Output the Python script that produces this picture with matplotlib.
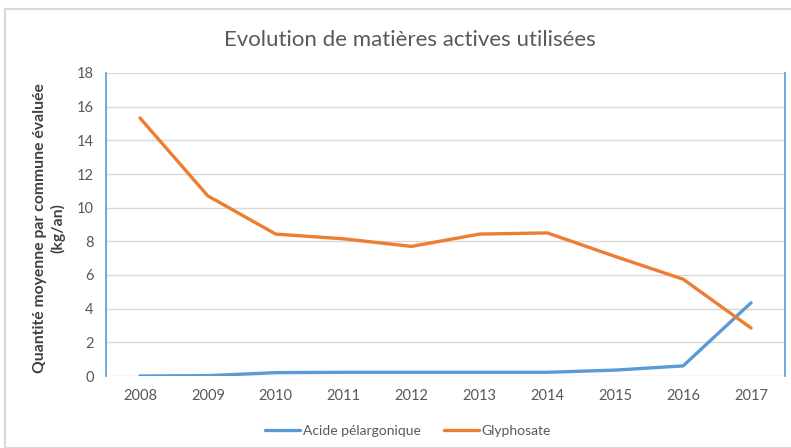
import matplotlib
matplotlib.use("Agg")
import matplotlib.pyplot as plt
from matplotlib.patches import Rectangle

years = [2008, 2009, 2010, 2011, 2012, 2013, 2014, 2015, 2016, 2017]
acide = [0.0, 0.02, 0.2, 0.22, 0.22, 0.22, 0.22, 0.35, 0.6, 4.35]
glypho = [15.33, 10.7, 8.43, 8.15, 7.7, 8.43, 8.5, 7.1, 5.75, 2.85]
yticks = [0, 2, 4, 6, 8, 10, 12, 14, 16, 18]
ytick_labels = ["0", "2", "4", "6", "8", "10", "12", "14", "16", "18"]

plt.rcParams['font.family'] = ['Lato', 'DejaVu Sans']

fig = plt.figure(figsize=(7.91, 4.48), dpi=100)
W, H = 791, 448
ax = fig.add_axes([106 / W, (H - 376) / H, (785 - 106) / W, (376 - 73) / H])

blue = '#5B9BD5'
orange = '#ED7D31'
ax.plot(years, acide, color=blue, lw=2.4, label='Acide pélargonique', solid_capstyle='round')
ax.plot(years, glypho, color=orange, lw=2.4, label='Glyphosate', solid_capstyle='round')

ax.set_xlim(2007.5, 2017.5)
ax.set_ylim(0, 18)
ax.set_yticks(yticks)
ax.set_yticklabels(ytick_labels)
ax.set_xticks(years)
ax.set_xticklabels([str(y) for y in years])
ax.yaxis.grid(True, color='#D9D9D9', lw=1)
ax.set_axisbelow(True)
for s in ['top', 'bottom']:
    ax.spines[s].set_visible(False)
for s in ['left', 'right']:
    ax.spines[s].set_color(blue)
    ax.spines[s].set_linewidth(1.2)
ax.tick_params(axis='both', length=0, labelsize=10.5, colors='#595959')
ax.tick_params(axis='y', pad=9)
ax.tick_params(axis='x', pad=9)

fig.text(49 / W, 1 - 228 / H, 'Quantité moyenne par commune évaluée\n(kg/an)',
         rotation=90, ha='center', va='center', fontsize=11.3, fontweight='bold',
         color='#404040', linespacing=1.25)

fig.text(410 / W, 1 - 40 / H, 'Evolution de matières actives utilisées',
         ha='center', va='center', fontsize=16, color='#595959')

leg = fig.legend(loc='center', bbox_to_anchor=(408 / W, 1 - 431 / H), ncol=2,
                 frameon=False, fontsize=10, handlelength=2.5, columnspacing=1.7,
                 handletextpad=0.2)
for t in leg.get_texts():
    t.set_color('#595959')

fig.patches.append(Rectangle((5 / W, 0), 1.0, 1 - 9 / H, transform=fig.transFigure,
                             fill=False, edgecolor='#D9D9D9', lw=1.5))

fig.savefig('out.png', dpi=100)
